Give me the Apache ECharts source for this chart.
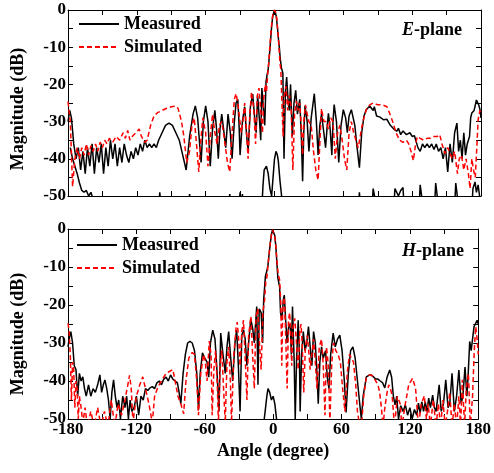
<!DOCTYPE html>
<html><head><meta charset="utf-8">
<script src="https://cdn.jsdelivr.net/npm/echarts@6/dist/echarts.min.js"></script>
<style>html,body{margin:0;padding:0;background:#fff}#c{width:494px;height:473px}</style>
</head><body><div id="c"></div>
<script>
// ---- data: [angle (deg), magnitude (dB)] ----
const xTicks = [-180, -120, -60, 0, 60, 120, 180];
const yTicks = [0, -10, -20, -30, -40, -50];
const seriesNames = ['Measured', 'Simulated'];
const panelLabels = ['E', 'H'];

const eMeas = [[-180,-30],[-178.5,-27],[-177,-29],[-175,-36],[-173,-40],[-171,-37],[-169,-43],[-167,-38],[-165,-44],[-163,-37],[-161,-42],[-159,-36],[-157,-44],[-155,-37],[-153,-41],[-151,-36],[-149,-44],[-147,-37],[-145,-42],[-143,-35],[-141,-40],[-139,-36],[-137,-42],[-135,-37],[-133,-41],[-131,-36],[-129,-39],[-127,-41],[-125,-38],[-123,-40],[-121,-37],[-119,-39],[-117,-36],[-115,-38],[-113,-35],[-111,-37],[-109,-36],[-107,-37],[-105,-36],[-103,-37],[-101,-35],[-98,-33],[-95,-31],[-92,-30.4],[-89,-31],[-86,-33],[-83,-35],[-80,-39],[-77,-43],[-74,-34],[-71,-28],[-69,-25.8],[-67,-29],[-64,-41],[-62,-30],[-60,-25.8],[-58,-30],[-56,-42],[-54,-32],[-52,-27],[-50.5,-32],[-49,-40],[-47.5,-32],[-46,-28],[-44,-33],[-42.5,-37],[-40.5,-28],[-38.5,-33],[-37,-40],[-35,-30],[-33.5,-25],[-32,-24],[-31,-30],[-30,-39],[-28,-30],[-26,-26],[-24.5,-33],[-23,-38],[-21,-26],[-19,-22.6],[-17,-30],[-16,-33],[-14.7,-23],[-13,-30],[-12,-35],[-11,-21],[-9.5,-27],[-8.5,-31],[-7.4,-19.3],[-6.5,-17.5],[-5.5,-16],[-4.5,-12.5],[-3.5,-8.5],[-2.5,-4.5],[-1.5,-1.6],[0,0],[1.5,-1.6],[2.5,-4.5],[3.5,-8],[4.2,-10],[5,-13],[6,-15.5],[7.3,-17],[8.3,-40],[9.5,-22],[10.6,-18],[12,-25],[13,-27],[14,-20],[15.5,-34],[17,-25],[18.5,-21.6],[20,-28],[22,-24],[23.5,-35],[24.5,-46],[25.5,-33],[26.6,-25.8],[28.5,-30],[30,-38],[32,-29],[34.7,-22.5],[36.5,-30],[38,-39],[39.5,-31],[41,-28],[43,-33],[44.5,-37],[46,-31],[47,-27.8],[48.5,-32],[50,-39],[51,-30],[52,-25.4],[54,-30],[56,-41],[58,-31],[60,-26.8],[62,-29],[63.5,-33],[65,-28.5],[67,-26.8],[70,-31],[72,-37],[74,-42.4],[76,-33],[78,-28.5],[80,-26.8],[83,-25.8],[84.7,-25.5],[86,-27],[87,-26],[89,-28.5],[92,-28.8],[95,-29.5],[98,-29.4],[101,-31],[104,-32],[106.5,-32.6],[108,-31.8],[110,-33.5],[112,-32.5],[115,-33.5],[118,-33],[120,-34],[122,-33.8],[125,-37],[127,-38],[129,-36],[131,-37],[133,-36],[135,-37],[137,-36],[139,-37.5],[141,-36],[143,-38],[145,-37],[147,-40],[149,-37],[151,-43.5],[153,-36],[155,-41],[157,-33],[159,-30.4],[160.5,-38],[162,-35],[163.5,-40],[165,-33],[166.5,-39],[168,-36],[170,-34],[171,-29],[172,-27.7],[174,-27],[176,-24.2],[178,-25.5],[179,-26.6],[180,-29]];

const eSim = [[-180,-24.6],[-178,-30],[-176,-47.5],[-174,-40],[-172,-37],[-170,-40],[-168,-37],[-166,-39],[-164,-36],[-162,-39],[-160,-36.5],[-158,-38],[-156,-36],[-154,-38],[-152,-35.5],[-150,-37],[-148,-35],[-146,-36],[-144,-34.5],[-141,-35.5],[-138,-34],[-135,-35],[-132,-33],[-130,-34.5],[-128,-32.4],[-126,-35],[-124,-34],[-121,-33],[-118,-32],[-116,-34],[-113,-35.6],[-111,-35],[-108,-31],[-105,-28.5],[-102,-27.6],[-98,-27],[-94,-26.4],[-90,-26],[-86,-25.8],[-84,-26.5],[-81,-30],[-79,-34],[-76.5,-41],[-74,-38],[-72,-31],[-70,-29],[-68,-36],[-66,-43.5],[-64.5,-36],[-62.5,-29],[-60,-33],[-58,-42],[-56,-34],[-54,-28],[-52,-33],[-50,-36],[-48,-31],[-46,-30],[-44,-34],[-41,-41],[-39,-43.5],[-37,-33],[-35,-24],[-33.5,-22.5],[-32,-25],[-30.5,-29],[-29,-33],[-27.5,-30],[-26,-25],[-24.5,-32],[-23,-40],[-21.5,-28],[-20,-22],[-18,-27],[-16.5,-36],[-15,-23],[-13.5,-21],[-12,-27],[-10.5,-33],[-9.5,-24],[-8,-20],[-7,-22],[-6,-17.5],[-5,-14],[-4,-9.5],[-3,-5.5],[-2,-2.4],[-1,-0.6],[0,0],[1,-0.6],[2,-2.4],[3,-6],[4,-10.5],[4.8,-14.3],[5.5,-16],[6.5,-25],[7.5,-34],[8.5,-23],[10,-20.5],[11.5,-27],[13,-23],[14.5,-26],[16,-43],[17.5,-28],[19,-24.5],[20.5,-27],[22,-25],[23.5,-32],[24.5,-39],[25.5,-30],[27,-25.5],[28.5,-28],[30,-30],[32,-31],[34,-38],[36,-43],[38,-45.7],[39.5,-36],[41,-26.5],[43,-30],[45,-30],[47,-32],[49,-29],[51,-30],[53,-40],[55,-33],[57,-31],[59,-35],[61,-40],[63,-43],[65,-33],[67,-30],[69,-33],[71,-35],[73,-37],[75,-33.5],[77,-30],[80,-26.8],[83,-25.5],[86,-25],[90,-25.5],[94,-25.5],[98,-26],[100,-27.5],[103,-30],[106,-33],[109,-35],[112,-35.6],[115,-35],[117,-36],[119,-38],[121,-40.5],[123,-36],[124.5,-34],[127,-34.5],[130,-35],[133,-34.5],[136,-34.5],[139,-34],[142,-34],[144,-33.5],[146,-36],[148.5,-38.6],[151,-37],[153,-38.6],[155,-40],[157,-38],[159.5,-44],[161,-40],[163,-39],[165,-43],[167,-40],[169,-44],[170.5,-48],[172,-40],[173.5,-43],[175,-45],[176.5,-36],[177.5,-29.5],[179,-27],[180,-28]];

const eCross = [[-178,-37],[-176,-40],[-174,-42],[-172,-44],[-170,-46.5],[-168,-48.5],[-166,-49],[-164,-48.5],[-162,-50],[-160,-49],[-158,-51],[-156,-53],[-101,-53],[-100,-49],[-99,-53],[-75,-53],[-74,-49.5],[-73,-53],[-40,-53],[-39,-49.5],[-38,-53],[-31,-53],[-30,-49],[-29,-53],[-28,-49.5],[-27,-53],[-11,-53],[-10,-47],[-9,-43],[-8,-42.5],[-7,-42],[-5.5,-44],[-4,-48],[-2.5,-50],[-1,-44],[0,-40],[1.3,-38],[2.5,-39],[3.3,-40.5],[4.8,-46],[6.2,-50],[7,-53],[73,-53],[74,-49],[75,-53],[85,-53],[86,-48],[87.5,-47.5],[89,-53],[104,-53],[105,-48],[106.5,-47.7],[108,-50],[110,-48.5],[112,-47.7],[113,-53],[126,-53],[127,-47],[128,-46.6],[129.5,-53],[139.5,-53],[140.5,-46.5],[141.5,-46.4],[143,-53],[157,-53],[158,-46.5],[159,-46.2],[160.5,-53],[172,-53],[173,-48],[174.8,-46.2],[176,-49],[177.5,-47],[178.6,-47.5],[180,-53]];

const hMeas = [[-180,-31],[-179,-29],[-177.5,-27],[-176,-30],[-174.5,-36],[-173,-37],[-171.5,-44],[-170,-38],[-168.5,-40],[-167,-38.9],[-165.5,-42],[-164,-44],[-162,-41],[-160,-44],[-158,-42],[-156,-43],[-154,-41],[-152,-38.4],[-150.5,-43],[-149,-41],[-147.6,-39.7],[-146,-42],[-144.5,-45],[-143,-50],[-141.5,-43],[-140,-39.7],[-138.5,-44],[-137,-47],[-135.5,-45],[-134,-50],[-132,-44],[-130,-47],[-128.5,-44],[-127,-50],[-125.5,-45],[-124,-48],[-122,-47],[-120,-44],[-118,-49],[-116,-44],[-114,-45],[-112,-42],[-110,-42.5],[-108,-41.8],[-106,-41.5],[-104,-42],[-102,-40.5],[-100,-40],[-98,-41],[-96,-39.5],[-94,-39],[-92,-40],[-90,-38.4],[-88,-39.5],[-86,-40],[-84,-40.5],[-82.5,-43],[-81,-46],[-79,-38],[-77,-33],[-75,-30],[-73,-29.6],[-71,-30],[-69,-32],[-67,-38],[-65.5,-47.6],[-64,-38],[-62,-32.6],[-60,-34],[-58,-35],[-56.5,-39],[-55,-30],[-53,-26.6],[-51,-29],[-49.5,-36],[-47.5,-48],[-46,-27.4],[-44,-33],[-42,-38],[-40.5,-31],[-39,-27],[-37.5,-33],[-35.5,-40],[-33.5,-30],[-32,-26.6],[-30.5,-36],[-29,-48],[-27.5,-28],[-26,-26.5],[-24.5,-29],[-23,-36],[-21.5,-30],[-19.6,-23.7],[-18,-26],[-16.5,-30],[-14.4,-20.4],[-13.3,-41],[-12.2,-21],[-10.5,-22],[-9.2,-30],[-8.3,-18.7],[-6.8,-12.5],[-5.5,-11],[-4.5,-9.5],[-3.5,-6.5],[-2.5,-3.8],[-1.5,-1.5],[-0.5,-0.2],[0,0],[0.5,-0.2],[1.5,-1.8],[2.5,-5],[3.3,-9],[4.2,-13],[5.7,-15.2],[6.5,-22],[7.7,-24],[9,-18.5],[9.8,-17.4],[11,-24],[12.3,-30],[13.5,-26],[15,-25],[16,-33],[17,-20.4],[18.5,-35],[19.4,-50],[20.5,-35],[22,-24],[23,-32],[23.7,-48],[25,-33],[26.5,-27],[28,-32],[29.5,-30],[31,-25.7],[32.5,-31],[34,-36],[35.5,-27],[37,-30],[38.5,-38],[39.6,-46],[41,-35],[42.5,-31],[44,-34],[46,-32],[47.5,-39],[49,-42],[50.5,-33],[52.7,-27.4],[54.5,-31],[56.5,-29],[58.5,-27.9],[60.5,-32],[62.5,-40],[64,-48.3],[66,-38],[68,-32],[70,-31],[72,-34],[74,-40],[76,-46],[77.4,-50],[79,-44],[81.8,-38.9],[84,-38.5],[86,-38.4],[88,-38.9],[90,-39.5],[92,-39.5],[94,-40],[96,-40.4],[98,-41.8],[100,-39],[102.3,-37.1],[104,-39],[105.5,-44],[107,-46.3],[108.5,-44],[110,-50],[112,-46.5],[114,-48],[116,-46.3],[118,-49],[120,-47],[122,-50],[124,-47.5],[126,-49],[127.5,-45.8],[129,-48.5],[130.5,-45.5],[132,-48],[133.5,-45.5],[135,-48],[136.5,-44.5],[138,-47],[140,-43.7],[141.5,-47],[143,-48],[145.7,-41],[147.5,-48],[149.5,-46],[151.5,-39.7],[153.5,-47],[155,-46],[157,-38],[159,-48],[161,-44],[163,-37.1],[165,-46],[166.5,-44],[168.4,-36.3],[170,-44],[171.2,-38],[172.5,-29.6],[173.8,-32],[176.3,-25.7],[179,-24],[180,-25]];

const hSim = [[-180,-24.8],[-179,-27],[-178,-33],[-177,-45],[-176,-35],[-175,-37],[-174,-47],[-173,-40],[-172,-42],[-171,-50],[-170,-44],[-168.5,-47],[-167,-51],[-165,-47],[-163,-52],[-160,-48],[-157,-52],[-154,-47],[-151,-52],[-148,-48],[-145,-52],[-142,-45],[-139,-52],[-136,-46],[-133,-49],[-130,-45],[-127.5,-41],[-126,-38.5],[-124.5,-42],[-123,-51],[-120,-44],[-117,-41],[-114.4,-38.9],[-112,-42],[-109,-46],[-106,-51],[-104,-44],[-101,-41.5],[-98,-40],[-96,-39],[-94,-38],[-91,-37.5],[-88,-37],[-86,-40],[-83.5,-44],[-81,-46],[-78.5,-48.6],[-76.5,-40],[-74,-34],[-71,-32.5],[-69,-33],[-67,-40],[-65.5,-49],[-63.5,-38],[-61,-33],[-59.5,-35],[-58,-40],[-56,-29.5],[-54.5,-33],[-53.5,-49],[-52,-37],[-50.5,-32],[-49,-41],[-48,-51],[-46.5,-36],[-45,-32],[-43.5,-42],[-42,-51],[-40.5,-35],[-39,-31],[-37.5,-40],[-36.5,-51],[-34.5,-33],[-32.5,-26],[-31.5,-24.5],[-30,-30],[-29,-36],[-27.5,-27],[-26,-24],[-24.5,-34],[-23,-45],[-21.5,-28],[-19.5,-23],[-18,-33],[-16.5,-42],[-15,-23],[-13.5,-21],[-12,-30],[-10.5,-37],[-9,-22],[-7.5,-18.7],[-6.5,-14],[-5.4,-12.5],[-4.5,-9.5],[-3.5,-6.5],[-2.5,-3.8],[-1.5,-1.5],[-0.5,-0.2],[0,0],[0.5,-0.3],[1.5,-2],[2.5,-5],[3.5,-9],[4.5,-12],[5.7,-13.4],[6.8,-20],[7.6,-36],[8.5,-20],[9.9,-18],[11,-28],[12.3,-42],[13.5,-24],[14.5,-22],[15.5,-28],[16.3,-36],[17.4,-26],[19,-23.5],[20.5,-30],[22,-37],[23.4,-27],[24.5,-25],[25.5,-30],[26.9,-43],[28.3,-31],[30,-28],[31.5,-33],[32.5,-37],[34,-33],[35.5,-29],[37,-35],[38.5,-42],[40.5,-31],[42.5,-29],[44,-36],[45.5,-49],[46.8,-31],[48.5,-36],[49.8,-51],[51.5,-35],[53,-30],[55,-32],[57,-33],[59,-35],[61,-42],[63,-48],[65,-38],[67,-33],[68.7,-32.7],[70.5,-35],[72.5,-41],[74,-48],[75.5,-51],[77.5,-52],[79.5,-44],[81.8,-39],[84,-38.5],[86,-38.4],[88,-38.9],[90,-40],[92,-41],[93.5,-43],[95,-47],[96.5,-52],[98,-47],[100,-43],[101.5,-41],[103,-42],[104.5,-44],[106.5,-52],[109,-44],[111.5,-46],[113,-52],[116,-46],[119,-41],[122.4,-39.3],[125,-42],[127.5,-52],[130,-46],[132.7,-43.9],[134.5,-50],[136,-46],[138,-52],[140.5,-45],[143,-52],[145,-46],[147,-52],[149,-45],[151,-52],[153,-48],[155,-43],[157,-52],[159,-46],[161,-52],[163,-44],[164.5,-52],[166,-39.7],[168,-52],[169.5,-42],[171.4,-38],[173,-52],[175,-44],[176.5,-32],[177.8,-25.7],[179,-29],[180,-33]];

const hCross = [[-9,-53],[-7,-48],[-5.5,-44],[-4.5,-42],[-3,-43],[-1.5,-45],[0,-44],[1.5,-46],[3,-50],[4,-53]];

// ---- chart ----
const FONT = 'Liberation Serif';
const chart = echarts.init(document.getElementById('c'), null, {renderer: 'canvas'});

function xAx(grid, pos, showLabel, name) {
  return {
    type: 'value', gridIndex: grid, position: pos, min: xTicks[0], max: xTicks[xTicks.length - 1], interval: 60,
    axisLine: {show: true, onZero: false, lineStyle: {color: '#000', width: 1}},
    axisTick: {show: true, inside: true, length: 5, lineStyle: {color: '#000', width: 1}},
    minorTick: {show: true, splitNumber: 2, length: 5, lineStyle: {color: '#000', width: 1}},
    splitLine: {show: false},
    axisLabel: {show: showLabel, color: '#000', fontFamily: FONT, fontWeight: 'bold', fontSize: 17, margin: 2},
    name: name || '', nameLocation: 'middle', nameGap: 23,
    nameTextStyle: {color: '#000', fontFamily: FONT, fontWeight: 'bold', fontSize: 18}
  };
}
function yAx(grid, pos, showLabel) {
  return {
    type: 'value', gridIndex: grid, position: pos, min: yTicks[yTicks.length - 1], max: yTicks[0], interval: 10,
    axisLine: {show: true, onZero: false, lineStyle: {color: '#000', width: 1}},
    axisTick: {show: true, inside: true, length: 5, lineStyle: {color: '#000', width: 1}},
    minorTick: {show: true, splitNumber: 2, length: 5, lineStyle: {color: '#000', width: 1}},
    splitLine: {show: false},
    axisLabel: {show: showLabel, color: '#000', fontFamily: FONT, fontWeight: 'bold', fontSize: 17, margin: 2}
  };
}
function ser(name, data, xi, yi, color, dashed, w) {
  return {
    type: 'line', name: name, data: data, xAxisIndex: xi, yAxisIndex: yi,
    symbol: 'none', showSymbol: false, clip: true, animation: false, z: dashed ? 3 : 2,
    lineStyle: {color: color, width: w || 1.5, type: dashed ? [5, 3] : 'solid'},
    itemStyle: {color: color}
  };
}
const legendText = {color: '#000', fontFamily: FONT, fontWeight: 'bold', fontSize: 18, lineHeight: 18};
const legendBase = {orient: 'vertical', itemWidth: 40, itemHeight: 14, itemGap: 5, padding: 0,
  textStyle: legendText, selectedMode: false, itemStyle: {opacity: 0, borderWidth: 0}};
const labelRich = {i: {fontFamily: FONT, fontWeight: 'bold', fontStyle: 'italic', fontSize: 18, fill: '#000'},
                   n: {fontFamily: FONT, fontWeight: 'bold', fontSize: 18, fill: '#000'}};

chart.setOption({
  animation: false,
  backgroundColor: '#fff',
  grid: [
    {left: 68, top: 10, width: 413, height: 186},
    {left: 68, top: 229, width: 413, height: 190}
  ],
  xAxis: [xAx(0, 'bottom', false), xAx(0, 'top', false), xAx(1, 'bottom', true, 'Angle (degree)'), xAx(1, 'top', false)],
  yAxis: [yAx(0, 'left', true), yAx(0, 'right', false), yAx(1, 'left', true), yAx(1, 'right', false)],
  legend: [
    Object.assign({data: seriesNames, left: 78, top: 15}, legendBase),
    Object.assign({data: seriesNames, left: 76, top: 236}, legendBase)
  ],
  graphic: [
    {type: 'text', x: 18, y: 109, rotation: Math.PI / 2, style: {text: 'Magnitude (dB)', font: 'bold 18px "Liberation Serif"', fill: '#000', align: 'center', verticalAlign: 'middle', textAlign: 'center', textVerticalAlign: 'middle'}},
    {type: 'text', x: 18, y: 334, rotation: Math.PI / 2, style: {text: 'Magnitude (dB)', font: 'bold 18px "Liberation Serif"', fill: '#000', align: 'center', verticalAlign: 'middle', textAlign: 'center', textVerticalAlign: 'middle'}},
    {type: 'text', x: 402, y: 30, style: {text: '{i|' + panelLabels[0] + '}{n|-plane}', rich: labelRich, verticalAlign: 'middle', textVerticalAlign: 'middle'}},
    {type: 'text', x: 402, y: 251, style: {text: '{i|' + panelLabels[1] + '}{n|-plane}', rich: labelRich, verticalAlign: 'middle', textVerticalAlign: 'middle'}}
  ],
  series: [
    ser('Measured', eMeas, 0, 0, '#000', false),
    ser('Measured ', eCross, 0, 0, '#000', false),
    ser('Simulated', eSim, 0, 0, '#ff0000', true),
    ser('Measured', hMeas, 2, 2, '#000', false),
    ser('Measured ', hCross, 2, 2, '#000', false),
    ser('Simulated', hSim, 2, 2, '#ff0000', true)
  ]
});
</script></body></html>
